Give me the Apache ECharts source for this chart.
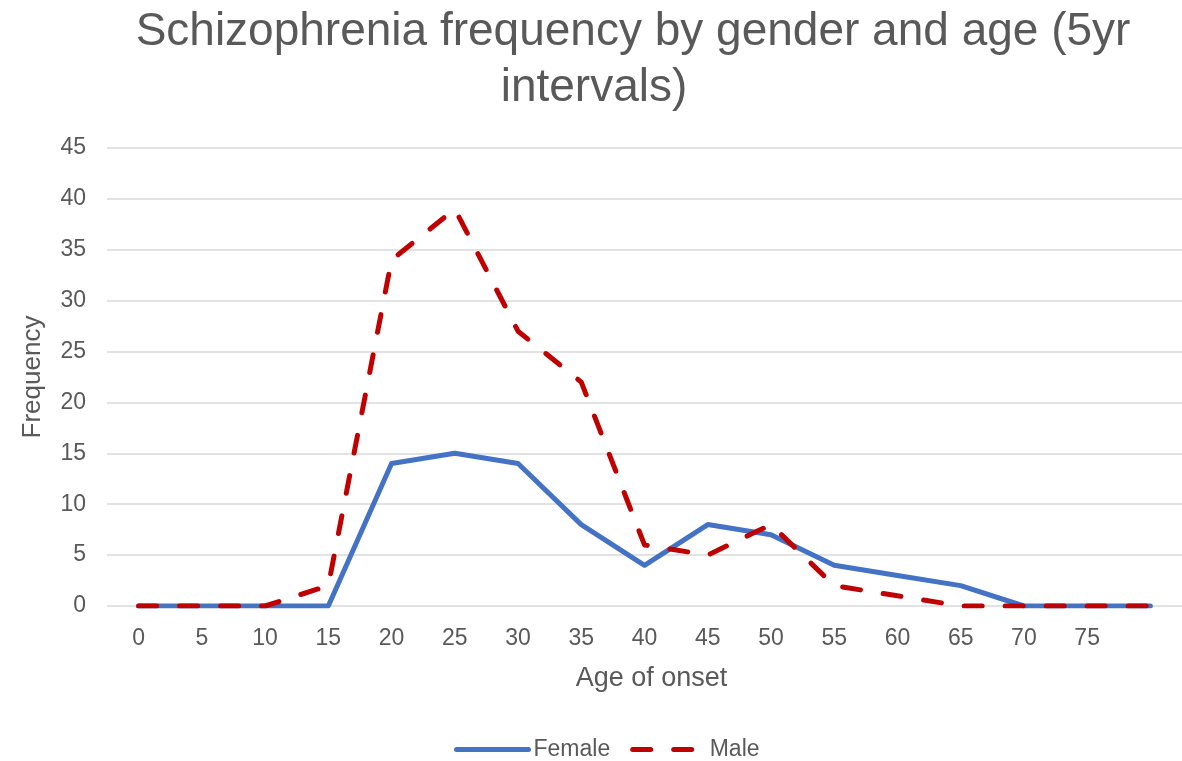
<!DOCTYPE html>
<html>
<head>
<meta charset="utf-8">
<script src="https://cdn.jsdelivr.net/npm/echarts@6/dist/echarts.min.js"></script>
<style>
  html, body { margin: 0; padding: 0; background: #fff; }
  #chart { width: 1182px; height: 761px; }
</style>
</head>
<body>
<div id="chart"></div>
<script>
var ages = ['0', '5', '10', '15', '20', '25', '30', '35', '40', '45', '50', '55', '60', '65', '70', '75', ''];
var female = [0, 0, 0, 0, 14, 15, 14, 8, 4, 8, 7, 4, 3, 2, 0, 0, 0];
var male = [0, 0, 0, 2, 34, 39, 27, 22, 6, 5, 8, 2, 1, 0, 0, 0, 0];

var textColor = '#595959';
var font = 'Liberation Sans, Arial, sans-serif';

var myChart = echarts.init(document.getElementById('chart'));

var titleStyle = {
    color: textColor,
    fontFamily: font,
    fontWeight: 'normal',
    fontSize: 46,
    lineHeight: 50
};

myChart.setOption({
    animation: false,
    title: [
        {
            text: 'Schizophrenia frequency by gender and age (5yr',
            left: 628,
            textAlign: 'center',
            top: 2,
            textStyle: titleStyle
        },
        {
            text: 'intervals)',
            left: 589,
            textAlign: 'center',
            top: 58,
            textStyle: titleStyle
        }
    ],
    legend: {
        top: 733,
        left: 449,
        itemWidth: 72,
        itemHeight: 12,
        itemGap: 20,
        itemStyle: { opacity: 0 },
        lineStyle: { width: 5, cap: 'round' },
        textStyle: { color: textColor, fontFamily: font, fontSize: 23 },
        data: ['Female', 'Male']
    },
    grid: {
        left: 107,
        top: 148,
        width: 1082,
        height: 458
    },
    xAxis: {
        type: 'category',
        data: ages,
        boundaryGap: true,
        name: 'Age of onset',
        nameLocation: 'middle',
        nameGap: 59,
        nameTextStyle: { color: textColor, fontFamily: font, fontSize: 27, padding: [0, 0, 0, 14] },
        axisLine: { show: false },
        axisTick: { show: false },
        axisLabel: { color: textColor, fontFamily: font, fontSize: 23, margin: 21, interval: 0 }
    },
    yAxis: {
        type: 'value',
        min: 0,
        max: 45,
        interval: 5,
        name: 'Frequency',
        nameLocation: 'middle',
        nameGap: 61,
        nameRotate: 90,
        nameTextStyle: { color: textColor, fontFamily: font, fontSize: 26 },
        axisLabel: { color: textColor, fontFamily: font, fontSize: 23, margin: 21 },
        splitLine: { lineStyle: { color: '#d9d9d9', width: 1.5 } }
    },
    series: [
        {
            name: 'Female',
            type: 'line',
            data: female,
            symbol: 'none',
            color: '#4472C4',
            lineStyle: { width: 5, color: '#4472C4', cap: 'round', join: 'round' }
        },
        {
            name: 'Male',
            type: 'line',
            data: male,
            symbol: 'none',
            color: '#C00000',
            lineStyle: { width: 5, color: '#C00000', type: [18, 23], cap: 'round', join: 'round' }
        }
    ]
});
</script>
</body>
</html>
